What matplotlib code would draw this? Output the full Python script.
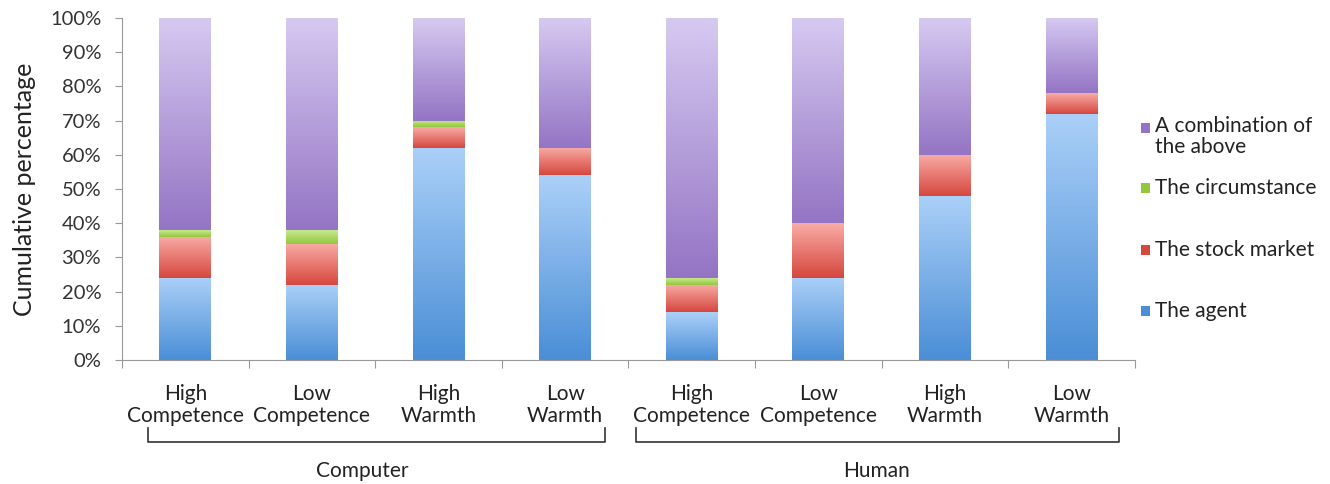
import numpy as np
import matplotlib.pyplot as plt
from matplotlib.colors import LinearSegmentedColormap
from matplotlib.patches import Rectangle
from matplotlib.transforms import blended_transform_factory

# data (percent of responses per condition)
conditions = ['High\nCompetence', 'Low\nCompetence', 'High\nWarmth', 'Low\nWarmth',
              'High\nCompetence', 'Low\nCompetence', 'High\nWarmth', 'Low\nWarmth']
groups = ['Computer', 'Human']
agent = [24, 22, 62, 54, 14, 24, 48, 72]
stock_market = [12, 12, 6, 8, 8, 16, 12, 6]
circumstance = [2, 4, 2, 0, 2, 0, 0, 0]
combination = [62, 62, 30, 38, 76, 60, 40, 22]

series = [('The agent', agent, '#4a8ed6', '#abd0f8'),
          ('The stock market', stock_market, '#d6473e', '#f8aca6'),
          ('The circumstance', circumstance, '#93c83e', '#c8e88e'),
          ('A combination of\nthe above', combination, '#9474c4', '#d6caf1')]

plt.rcParams['font.family'] = ['Lato', 'DejaVu Sans']

fig = plt.figure(figsize=(13.3, 4.84), dpi=100)
ax = fig.add_axes([0.0917, 0.256, 0.7617, 0.707])

x = np.arange(len(conditions))
width = 0.41
bottom = np.zeros(len(conditions))
grad = np.linspace(0, 1, 256).reshape(-1, 1)

for name, vals, dark, light in series:
    vals = np.array(vals, dtype=float)
    cmap = LinearSegmentedColormap.from_list(name, [dark, light])
    bars = ax.bar(x, vals, width, bottom=bottom, facecolor='none', edgecolor='none')
    for b in bars:
        if b.get_height() <= 0:
            continue
        x0, y0 = b.get_x(), b.get_y()
        im = ax.imshow(grad, cmap=cmap, origin='lower', aspect='auto',
                       extent=(x0, x0 + b.get_width(), y0, y0 + b.get_height()),
                       zorder=2)
        im.set_clip_path(b)
    bottom += vals

ax.set_xlim(-0.5, len(conditions) - 0.5)
ax.set_ylim(0, 100)
ax.set_yticks(np.arange(0, 101, 10))
ax.set_yticklabels([f'{v}%' for v in range(0, 101, 10)], fontsize=14.5, color='#333333')
ax.set_ylabel('Cumulative percentage', fontsize=18, color='#222222', labelpad=10)

ax.set_xticks(np.arange(-0.5, len(conditions)), minor=False)
ax.set_xticklabels([])
ax.set_xticks(x, minor=True)
ax.set_xticklabels(conditions, minor=True, fontsize=15, color='#222222', linespacing=1.15)
ax.tick_params(axis='x', which='major', length=6, color='#999999', direction='out')
ax.tick_params(axis='x', which='minor', length=0, pad=17)
ax.tick_params(axis='y', length=5, color='#999999', direction='out', pad=10)

for s in ['top', 'right']:
    ax.spines[s].set_visible(False)
for s in ['left', 'bottom']:
    ax.spines[s].set_color('#999999')

# group brackets
tr = blended_transform_factory(ax.transData, ax.transAxes)
for (xa, xb), name, xc in zip([(-0.295, 3.315), (3.56, 7.37)], groups, [1.4, 5.46]):
    ax.plot([xa, xa, xb, xb], [-0.199, -0.240, -0.240, -0.199], transform=tr,
            color='#333333', lw=1.2, clip_on=False)
    ax.text(xc, -0.325, name, transform=tr, ha='center', va='center',
            fontsize=15, color='#222222')

# legend drawn at the right, last series on top
legend_y = [0.143, 0.322, 0.503, 0.678]
for (name, vals, dark, light), yy in zip(series, legend_y):
    ax.add_patch(Rectangle((1.006, yy - 0.015), 0.009, 0.030, transform=ax.transAxes,
                           facecolor=dark, edgecolor='none', clip_on=False))
    va = 'top' if '\n' in name else 'center'
    ty = yy + 0.034 if '\n' in name else yy
    ax.text(1.02, ty, name, transform=ax.transAxes, va=va, ha='left',
            fontsize=15, color='#222222', linespacing=1.05)

fig.savefig('out.png', dpi=100)
